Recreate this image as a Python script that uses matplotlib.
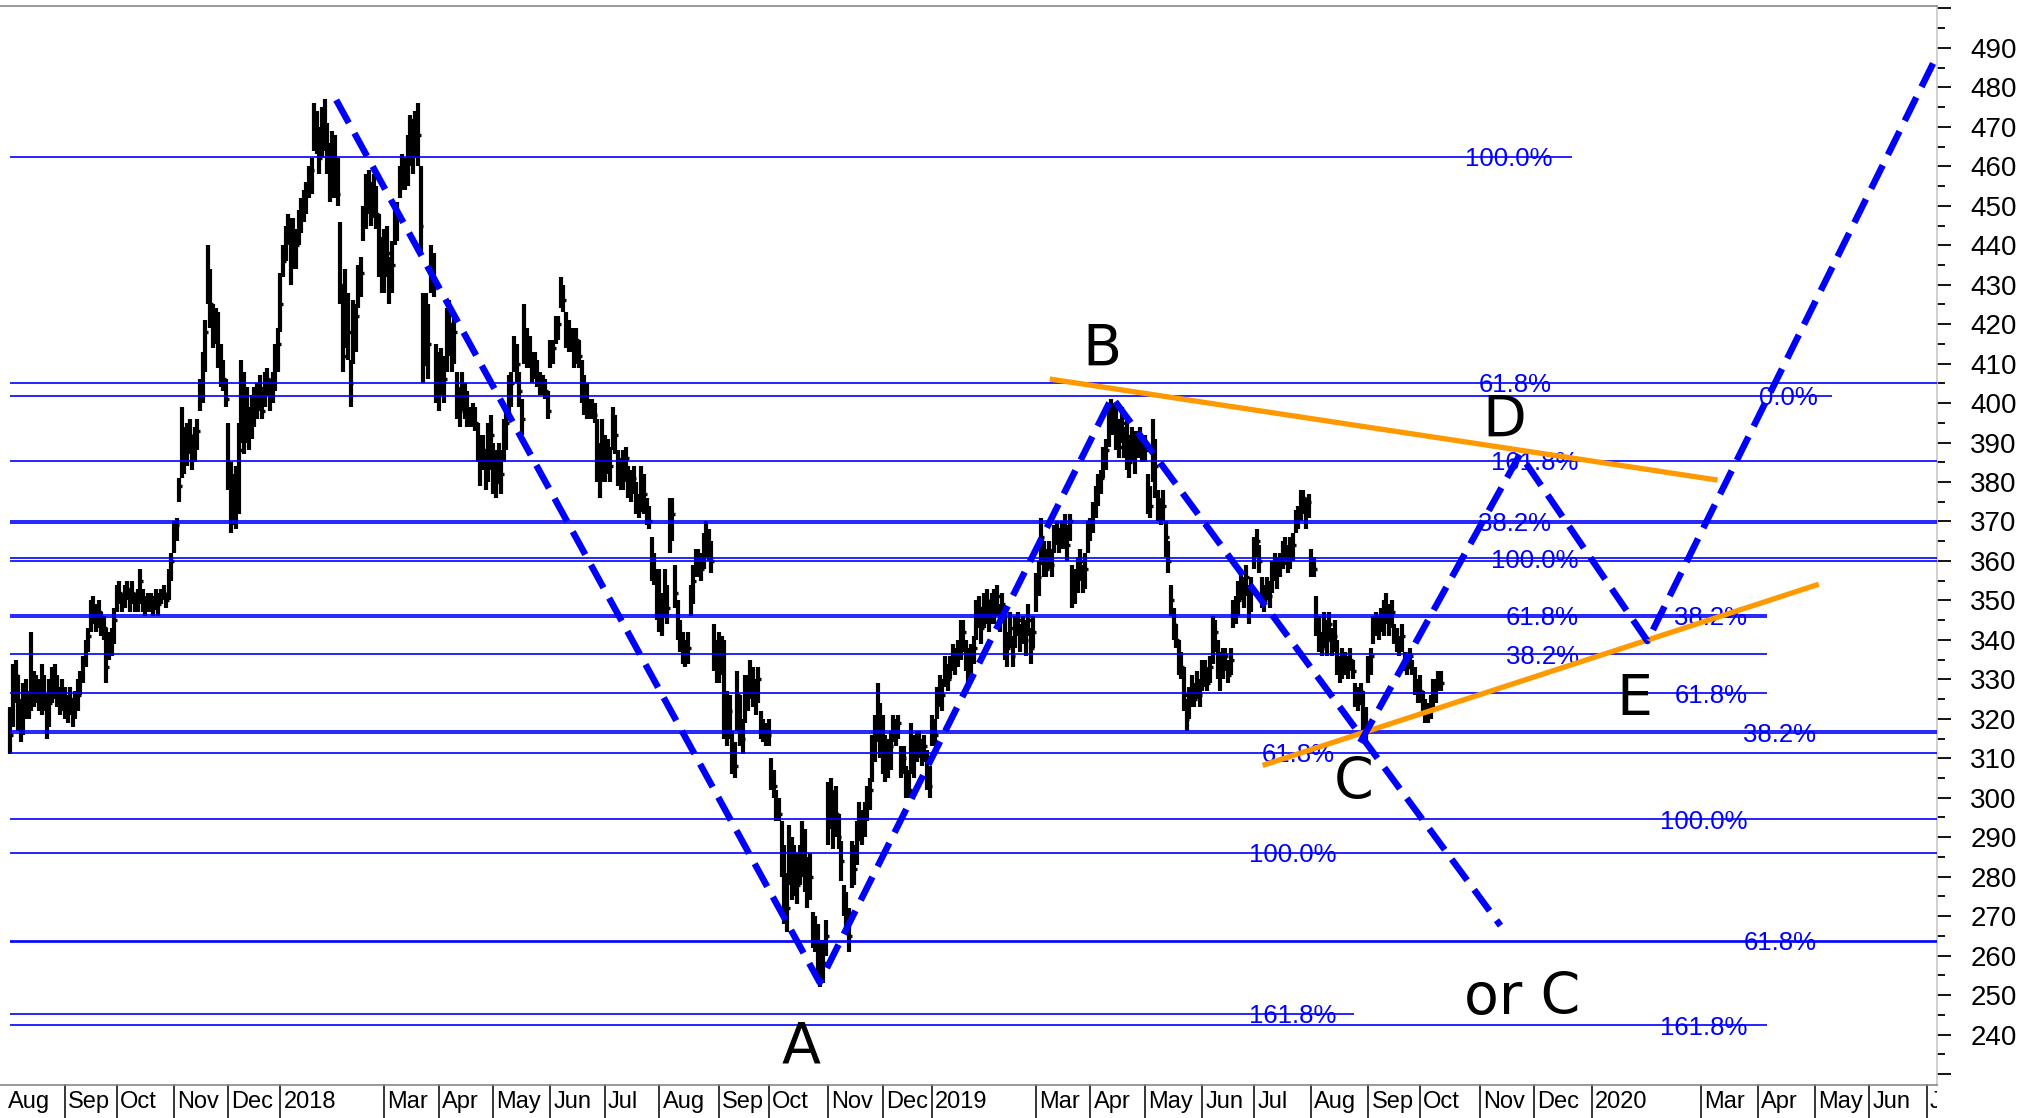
import numpy as np
import matplotlib
matplotlib.use("Agg")
import matplotlib.pyplot as plt
from matplotlib.transforms import Bbox, TransformedBbox, blended_transform_factory

plt.rcParams['font.family'] = ['Liberation Sans', 'DejaVu Sans']

# ---------------- data ----------------
month_labels = ["Aug", "Sep", "Oct", "Nov", "Dec",
                "2018", "", "Mar", "Apr", "May", "Jun", "Jul", "Aug", "Sep", "Oct", "Nov", "Dec",
                "2019", "", "Mar", "Apr", "May", "Jun", "Jul", "Aug", "Sep", "Oct", "Nov", "Dec",
                "2020", "", "Mar", "Apr", "May", "Jun", "Jul"]
month_days = [23, 20, 22, 21, 20,
              21, 19, 21, 21, 22, 21, 21, 23, 19, 23, 21, 19,
              21, 19, 21, 21, 22, 20, 22, 22, 20, 23, 21, 22,
              22, 20, 22, 22, 21, 22, 22]
first_bar = 2

close = [
    316, 328, 331, 322, 318, 326, 325, 324, 330, 327, 329, 325, 330, 326, 320, 324, 328, 330, 326, 324, 327,
    324, 322, 325, 321, 323, 326, 330, 334, 338, 341, 346, 348, 345, 347, 344, 343, 333, 338, 340, 345,
    350, 352, 349, 351, 353, 350, 352, 349, 351, 355, 350, 348, 349, 350, 348, 351, 349, 351, 352, 350, 356, 360,
    366, 369, 379, 390, 386, 389, 392, 386, 390, 393, 403, 410, 418, 432, 425, 418, 421, 412, 408, 406, 401,
    382, 372, 376, 374, 388, 404, 395, 396, 392, 398, 401, 400, 403, 398, 404, 406, 402, 405, 412, 415,
    425, 436, 442, 446, 438, 442, 440, 445, 448, 451, 453, 456, 459, 470, 466, 462, 472, 469, 462, 455, 465,
    458, 453, 430, 412, 425, 418, 405, 418, 422, 428, 433, 446, 452, 455, 450, 453, 448, 440, 434,
    436, 438, 430, 435, 443, 447, 456, 460, 458, 462, 468, 465, 470, 468, 445, 410, 420, 415, 434, 431, 408,
    404, 410, 406, 415, 420, 412, 418, 402, 398, 404, 400, 397, 396, 398, 395, 390, 384, 388, 382, 386, 392,
    384, 380, 386, 382, 390, 395, 402, 405, 412, 410, 403, 396, 418, 414, 411, 408, 410, 407, 405, 404, 403, 398,
    412, 414, 418, 420, 428, 426, 420, 417, 415, 414, 416, 412, 406, 402, 400, 398, 399, 397, 388, 382, 390,
    385, 388, 384, 395, 392, 384, 381, 382, 386, 380, 378, 381, 376, 373, 380, 377, 372, 370, 360, 357, 350,
    348, 346, 352, 348, 368, 372, 352, 344, 340, 337, 335, 338, 350, 355, 359, 360, 358, 362, 366, 364, 360, 338, 334,
    335, 338, 320, 318, 322, 310, 308, 326, 318, 315, 325, 328, 331, 328, 325, 330, 318, 316, 315,
    316, 306, 303, 298, 296, 285, 275, 272, 288, 280, 282, 278, 285, 289, 284, 276, 280, 266, 264, 260, 256, 258, 265,
    297, 300, 292, 296, 290, 284, 274, 270, 265, 285, 282, 290, 294, 291, 296, 298, 302, 312, 316, 322, 316,
    314, 308, 310, 313, 318, 316, 319, 308, 310, 304, 302, 314, 311, 312, 314, 310, 313, 306, 303,
    318, 316, 324, 328, 326, 332, 330, 334, 336, 334, 337, 340, 342, 336, 332, 335, 338, 345, 348, 343, 348,
    350, 346, 349, 348, 351, 345, 349, 340, 338, 343, 336, 342, 345, 340, 343, 340, 345, 338, 342,
    352, 356, 366, 360, 358, 362, 359, 365, 368, 364, 367, 368, 364, 370, 352, 355, 356, 360, 354, 358, 366,
    368, 372, 375, 378, 381, 385, 388, 394, 398, 396, 392, 389, 395, 390, 388, 385, 390, 387, 389, 391, 388,
    388, 378, 374, 390, 384, 375, 372, 374, 366, 360, 350, 344, 340, 336, 333, 326, 320, 324, 327, 325, 329, 326,
    330, 332, 329, 333, 338, 342, 335, 332, 333, 336, 331, 335, 346, 348, 350, 354, 352, 356, 348, 352,
    362, 365, 360, 352, 350, 354, 351, 356, 359, 357, 360, 361, 363, 360, 362, 364, 370, 372, 374, 376, 372, 375,
    360, 358, 345, 340, 338, 342, 340, 344, 339, 341, 335, 332, 334, 334, 333, 335, 332, 326, 324, 327, 320, 318,
    332, 336, 342, 345, 343, 346, 346, 348, 345, 347, 342, 340, 338, 341, 335, 333, 336, 332, 329, 326,
    327, 324, 322, 321, 323, 326, 328, 330, 329,
]
high = [
    323, 334, 335, 331, 325, 329, 330, 327, 342, 332, 331, 330, 334, 331, 326, 330, 333, 334, 331, 328, 330,
    328, 326, 328, 325, 327, 330, 332, 336, 340, 343, 350, 351, 349, 350, 347, 346, 343, 342, 343, 348,
    354, 355, 352, 354, 355, 353, 355, 352, 353, 358, 353, 351, 352, 352, 351, 353, 352, 353, 354, 352, 358, 362,
    370, 371, 381, 399, 394, 395, 396, 392, 394, 396, 406, 413, 421, 440, 434, 425, 424, 423, 415, 411, 406,
    395, 385, 382, 384, 395, 411, 408, 404, 399, 402, 404, 405, 407, 404, 408, 409, 406, 408, 415, 419,
    433, 440, 445, 448, 447, 447, 444, 449, 452, 454, 456, 460, 462, 476, 474, 470, 475, 477, 471, 466, 469,
    468, 462, 446, 430, 434, 428, 411, 426, 425, 435, 437, 450, 458, 459, 456, 458, 455, 448, 442,
    444, 445, 437, 441, 449, 451, 460, 463, 462, 468, 473, 472, 474, 476, 460, 428, 428, 425, 440, 438, 415,
    413, 414, 412, 424, 426, 420, 423, 408, 404, 408, 405, 403, 399, 400, 399, 395, 392, 392, 388, 395, 397,
    390, 388, 390, 388, 396, 398, 407, 408, 417, 415, 408, 401, 425, 419, 417, 413, 413, 411, 408, 407, 406, 403,
    416, 416, 422, 422, 432, 430, 423, 421, 419, 419, 419, 416, 411, 407, 405, 401, 401, 400, 396, 390, 396,
    392, 391, 389, 399, 397, 388, 386, 388, 389, 384, 383, 384, 380, 377, 384, 382, 376, 374, 366, 362, 358,
    358, 352, 358, 354, 376, 376, 359, 350, 345, 342, 340, 342, 354, 359, 363, 363, 362, 367, 370, 368, 365, 344, 340,
    342, 341, 340, 327, 326, 317, 314, 332, 326, 320, 331, 331, 335, 333, 330, 333, 322, 320, 319,
    320, 310, 307, 302, 300, 294, 288, 281, 293, 290, 288, 286, 288, 294, 292, 285, 286, 271, 270, 268, 264, 264, 269,
    304, 305, 302, 303, 296, 289, 278, 276, 272, 289, 288, 294, 299, 297, 299, 303, 305, 316, 321, 329, 324,
    321, 316, 315, 317, 321, 320, 321, 313, 313, 308, 307, 319, 316, 317, 317, 315, 316, 312, 308,
    321, 320, 328, 331, 330, 336, 334, 336, 339, 338, 340, 345, 345, 340, 338, 339, 341, 350, 351, 348, 352,
    353, 350, 352, 353, 354, 349, 352, 346, 342, 347, 341, 346, 347, 344, 346, 345, 349, 343, 346,
    357, 360, 371, 365, 363, 365, 363, 369, 370, 368, 370, 372, 369, 372, 359, 358, 361, 363, 359, 362, 370,
    371, 375, 379, 382, 383, 389, 391, 398, 401, 400, 399, 396, 399, 394, 396, 392, 394, 393, 393, 394, 392,
    392, 382, 379, 396, 391, 378, 376, 378, 370, 365, 354, 348, 344, 340, 337, 333, 325, 328, 331, 329, 332, 330,
    335, 335, 333, 336, 346, 345, 340, 337, 338, 338, 335, 338, 350, 351, 355, 358, 356, 359, 354, 356,
    366, 368, 364, 356, 354, 356, 355, 360, 362, 361, 362, 365, 366, 364, 366, 367, 373, 374, 378, 378, 376, 377,
    363, 361, 351, 346, 342, 347, 345, 347, 343, 345, 340, 336, 338, 337, 336, 338, 335, 329, 328, 329, 327, 323,
    336, 338, 346, 347, 346, 348, 350, 352, 349, 350, 344, 343, 341, 344, 337, 336, 338, 335, 333, 330,
    331, 327, 325, 324, 326, 330, 330, 332, 332,
]
low = [
    311, 318, 324, 317, 314, 316, 320, 320, 322, 323, 324, 322, 321, 322, 315, 318, 324, 325, 323, 321, 322,
    320, 319, 321, 318, 320, 322, 326, 329, 333, 337, 342, 344, 342, 343, 341, 340, 329, 335, 336, 339,
    347, 349, 347, 348, 350, 347, 349, 347, 347, 349, 347, 346, 347, 347, 346, 348, 346, 349, 350, 348, 350, 355,
    362, 365, 375, 381, 382, 384, 387, 383, 385, 388, 398, 400, 408, 425, 419, 414, 415, 409, 404, 403, 399,
    378, 367, 369, 368, 372, 390, 387, 390, 388, 391, 394, 396, 398, 396, 399, 402, 398, 400, 403, 408,
    418, 432, 436, 440, 430, 434, 434, 440, 443, 446, 448, 452, 453, 464, 463, 458, 462, 464, 458, 451, 452,
    452, 450, 425, 408, 414, 411, 399, 410, 413, 424, 427, 441, 444, 448, 445, 447, 444, 432, 428,
    428, 432, 425, 428, 440, 441, 452, 454, 454, 455, 460, 458, 462, 460, 438, 405, 410, 406, 428, 427, 400,
    398, 402, 400, 408, 412, 408, 410, 396, 394, 398, 396, 394, 394, 394, 393, 385, 379, 383, 378, 380, 383,
    377, 376, 380, 377, 385, 388, 397, 399, 408, 405, 399, 392, 410, 409, 409, 405, 406, 404, 402, 402, 401, 396,
    409, 410, 415, 416, 424, 423, 414, 413, 413, 409, 410, 409, 400, 397, 396, 396, 396, 395, 380, 376, 380,
    380, 382, 380, 388, 387, 379, 378, 378, 380, 376, 375, 377, 372, 371, 373, 372, 369, 368, 355, 354, 345,
    342, 341, 346, 344, 362, 365, 348, 340, 337, 334, 333, 334, 346, 349, 356, 356, 355, 358, 361, 360, 357, 332, 329,
    329, 331, 315, 313, 315, 306, 305, 317, 313, 311, 319, 322, 325, 323, 321, 324, 315, 314, 313,
    313, 302, 300, 294, 294, 280, 268, 266, 278, 274, 275, 273, 278, 280, 276, 272, 274, 262, 261, 254, 252, 253, 260,
    288, 292, 287, 290, 287, 279, 270, 266, 261, 277, 278, 283, 289, 288, 290, 294, 297, 304, 309, 314, 310,
    306, 304, 305, 307, 314, 313, 315, 305, 306, 300, 300, 306, 305, 309, 310, 308, 309, 302, 300,
    313, 313, 320, 323, 322, 328, 327, 330, 332, 331, 333, 335, 337, 332, 328, 330, 334, 340, 343, 339, 343,
    344, 342, 344, 344, 346, 342, 345, 335, 333, 338, 333, 338, 341, 337, 339, 336, 341, 334, 338,
    347, 351, 359, 356, 356, 358, 356, 362, 364, 362, 363, 363, 360, 365, 348, 349, 352, 355, 352, 353, 362,
    365, 367, 371, 374, 377, 381, 383, 389, 392, 392, 388, 386, 390, 386, 383, 381, 385, 382, 386, 386, 385,
    385, 372, 371, 380, 376, 370, 369, 370, 361, 357, 346, 340, 338, 331, 330, 322, 317, 320, 323, 323, 325, 323,
    327, 328, 327, 329, 334, 337, 330, 327, 330, 332, 329, 331, 343, 344, 346, 350, 348, 351, 344, 347,
    358, 361, 357, 348, 347, 350, 348, 352, 355, 353, 356, 358, 359, 357, 358, 360, 367, 368, 370, 372, 368, 371,
    356, 356, 341, 337, 336, 338, 336, 340, 336, 337, 331, 329, 330, 331, 330, 332, 330, 323, 322, 324, 315, 314,
    329, 331, 339, 341, 340, 342, 341, 344, 341, 343, 339, 337, 336, 337, 332, 331, 333, 331, 326, 324,
    324, 321, 319, 319, 320, 323, 324, 327, 327,
]

# wave path (x in trading-day index, y in price)
wave_x = [127.5, 313.7, 426.3, 575.9]
wave_y = [476.8, 253.2, 401.5, 267.6]
alt_x = [521.9, 583.4, 632.5, 743.0]
alt_y = [314.0, 387.0, 339.7, 486.7]
upper_trend_x = [402.3, 659.5]
upper_trend_y = [406.1, 380.5]
lower_trend_x = [484.3, 698.5]
lower_trend_y = [308.2, 354.1]

# fibonacci levels: price, end index (None = to axis)
fib_levels = [462.4, 405.1, 401.8, 385.4, 370.0, 369.6, 360.7, 360.0, 346.2, 345.8, 336.4,
              326.5, 317.0, 316.3, 311.4, 294.6, 286.0, 263.7, 263.4, 245.3, 242.3]
fib_ends = [603.4, None, 703.5, None, None, None, None, None, 678.5, 678.5, 678.5,
            678.5, None, None, None, None, None, None, None, 519.4, 678.5]
fib_text = ["100.0%", "61.8%", "0.0%", "161.8%", "38.2%", "100.0%", "61.8%", "38.2%",
            "38.2%", "61.8%", "38.2%", "61.8%", "100.0%", "100.0%", "61.8%", "161.8%", "161.8%"]
fib_text_x = [562.4, 567.4, 675.5, 572.4, 567.4, 572.4, 577.9, 642.9,
              577.9, 642.9, 669.5, 483.8, 637.4, 479.0, 669.5, 479.0, 637.4]
fib_text_y = [462.4, 405.1, 401.8, 385.4, 370.0, 360.7, 346.2, 346.2,
              336.4, 326.5, 316.6, 311.4, 294.6, 286.0, 263.7, 245.3, 242.3]

wave_labels = ["B", "A", "C", "D", "E", "or C"]
wave_label_x = [422.3, 306.7, 519.4, 577.4, 627.4, 584.4]
wave_label_y = [413.5, 236.5, 303.6, 395.4, 324.7, 249.0]

# ---------------- figure ----------------
fig = plt.figure(figsize=(20.35, 11.18), dpi=100)
ax = fig.add_axes([0.0, 0.0295, 0.9518, 0.9647])
XMIN, XMAX = -2, 744
ax.set_xlim(XMIN, XMAX)
ax.set_ylim(227.2, 500.5)

x = np.arange(first_bar, first_bar + len(close))
ax.vlines(x, low, high, color='black', lw=3.0, zorder=2)
ax.hlines(close, x, x + 1.1, color='black', lw=2.4, zorder=2)

for lvl, end in zip(fib_levels, fib_ends):
    ax.hlines(lvl, first_bar, XMAX if end is None else end, color='#0000ff', lw=1.2, zorder=3)
for t, tx, ty in zip(fib_text, fib_text_x, fib_text_y):
    ax.text(tx, ty, t, color='#0000ff', fontsize=18.5, ha='left', va='center_baseline', zorder=4)

ax.plot(upper_trend_x, upper_trend_y, color='#ff9900', lw=3.8, zorder=5, solid_capstyle='butt')
ax.plot(lower_trend_x, lower_trend_y, color='#ff9900', lw=3.8, zorder=5, solid_capstyle='butt')
ax.plot(wave_x, wave_y, color='#0000ff', lw=4.7, ls=(0, (4, 1.8)), zorder=6)
ax.plot(alt_x, alt_y, color='#0000ff', lw=4.7, ls=(0, (4, 1.8)), zorder=6)

for t, tx, ty in zip(wave_labels, wave_label_x, wave_label_y):
    ax.text(tx, ty, t, fontsize=41, family='DejaVu Sans', ha='center', va='center', zorder=7)

# spines
ax.spines['left'].set_visible(False)
ax.spines['top'].set_color('#888888')
ax.spines['right'].set_color('#c8c8c8')
ax.spines['bottom'].set_color('#888888')
for s in ax.spines.values():
    s.set_linewidth(1.2)

# y axis on right
ax.yaxis.tick_right()
majors = np.arange(230, 501, 10)
ax.set_yticks(majors)
ax.set_yticklabels([str(v) if 240 <= v <= 490 else '' for v in majors])
ax.set_yticks(np.arange(235, 500, 10), minor=True)
ax.tick_params(axis='y', which='major', length=10, width=1.3, pad=14, labelsize=20, colors='black')
ax.tick_params(axis='y', which='minor', length=5.5, width=1.3, colors='black')

# x axis: month boxes
ax.set_xticks([])
starts = np.concatenate([[0], np.cumsum(month_days)[:-1]])
trans = blended_transform_factory(ax.transData, ax.transAxes)
clipbox = TransformedBbox(Bbox([[0, -1], [1, 1]]), ax.transAxes)
for i, (s, lab) in enumerate(zip(starts, month_labels)):
    if lab == "":
        continue
    if i > 0:
        ax.plot([s, s], [0, -0.031], transform=trans, color='black', lw=1.1, clip_on=False)
    t = ax.text(s + 1.2, -0.016, lab, transform=trans, fontsize=17, ha='left', va='center')
    t.set_clip_box(clipbox)
    t.set_clip_on(True)

fig.savefig("out.png", dpi=100)
